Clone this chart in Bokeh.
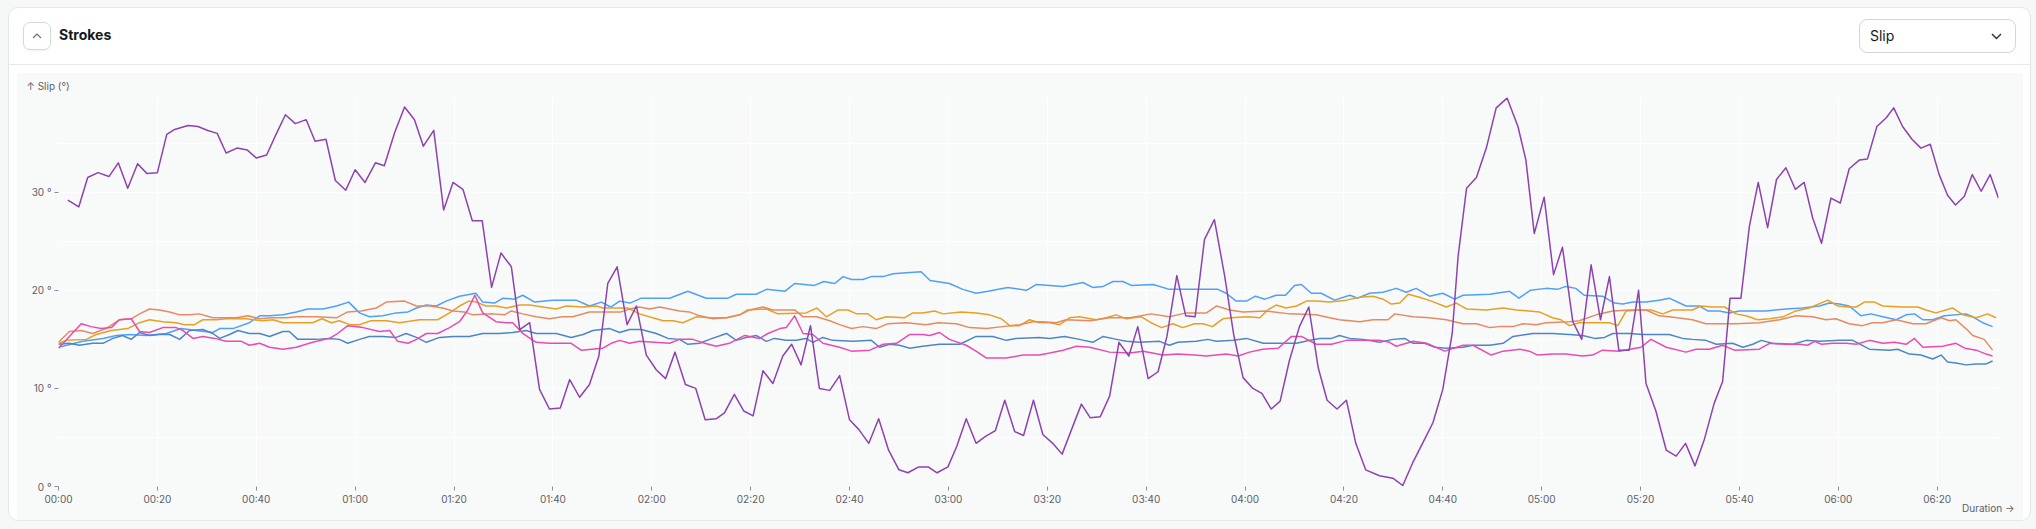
from bokeh.plotting import figure
from bokeh.layouts import column
from bokeh.models import Div, Label, FixedTicker, Range1d
from bokeh.embed import file_html
from bokeh.resources import INLINE

# slip angle (degrees) per seat, sampled against elapsed seconds
purple_t = [1.9, 4.1, 5.9, 8.0, 10.2, 12.1, 14.0, 16.0, 17.9, 20.0, 21.9, 23.5, 26.2, 28.2,
            30.2, 32.1, 33.9, 36.1, 38.2, 40.0, 42.1, 44.0, 45.9, 47.9, 50.1, 51.9, 54.1,
            56.0, 58.1, 60.0, 62.0, 64.1, 65.9, 68.0, 70.0, 72.0, 73.8, 75.9, 77.9, 79.8,
            81.8, 83.7, 85.7, 87.6, 89.5, 91.6, 93.3, 95.3, 97.3, 99.3, 101.5, 103.4, 105.4,
            107.4, 109.3, 111.1, 113.0, 115.0, 116.9, 118.9, 120.9, 122.8, 124.7, 126.8,
            128.9, 130.8, 133.0, 134.7, 136.7, 138.6, 140.5, 142.5, 144.5, 146.5, 148.3,
            150.2, 152.1, 153.9, 156.0, 158.0, 160.0, 161.9, 163.9, 165.9, 167.9, 170.0,
            171.8, 174.0, 175.9, 177.7, 179.9, 181.7, 183.6, 185.6, 187.5, 189.5, 191.4,
            193.4, 195.2, 197.2, 199.1, 201.1, 203.0, 204.9, 206.9, 208.7, 210.7, 212.6,
            214.5, 216.5, 218.3, 220.4, 222.4, 224.2, 226.2, 228.0, 229.9, 231.8, 233.8,
            235.9, 237.7, 239.6, 241.6, 243.4, 245.3, 247.1, 249.0, 251.0, 252.9, 254.8,
            256.6, 258.6, 260.5, 262.4, 264.4, 267.2, 269.9, 271.9, 273.9, 276.0, 278.0,
            280.0, 281.9, 283.1, 284.8, 286.8, 288.8, 290.8, 293.0, 295.2, 296.8, 298.5,
            300.5, 302.4, 304.2, 306.3, 308.1, 310.0, 311.9, 313.7, 315.6, 317.7, 319.6,
            321.1, 323.1, 325.2, 327.2, 329.1, 331.0, 332.9, 334.9, 336.6, 338.1, 340.3,
            342.0, 343.8, 345.7, 347.5, 349.4, 351.3, 353.1, 354.8, 356.6, 358.5, 360.4,
            362.2, 364.3, 365.9, 367.8, 369.7, 371.2, 373.0, 374.9, 376.7, 378.6, 380.4,
            382.1, 383.7, 385.5, 387.1, 388.9, 390.7, 392.4]
purple_v = [29.2, 28.5, 31.5, 32.0, 31.6, 33.0, 30.4, 32.9, 31.9, 32.0, 35.9, 36.4, 36.8, 36.7,
            36.3, 36.0, 34.0, 34.5, 34.3, 33.5, 33.8, 35.9, 37.9, 37.0, 37.4, 35.2, 35.4,
            31.2, 30.2, 32.3, 31.0, 33.0, 32.7, 36.1, 38.7, 37.4, 34.7, 36.3, 28.2, 31.0,
            30.3, 27.1, 27.1, 20.3, 23.8, 22.4, 16.0, 16.7, 9.9, 7.9, 8.0, 10.9, 9.1,
            10.4, 13.3, 20.7, 22.4, 16.5, 18.4, 13.4, 11.9, 11.0, 13.7, 10.4,
            10.0, 6.8, 6.9, 7.5, 9.4, 7.7, 7.2, 11.8, 10.5, 13.3, 14.5,
            12.4, 16.4, 10.0, 9.8, 11.3, 6.8, 5.8, 4.4, 6.9, 3.7, 1.7,
            1.4, 2.0, 2.0, 1.4, 2.0, 4.1, 6.9, 4.4, 5.1, 5.7, 8.8,
            5.6, 5.2, 8.8, 5.3, 4.4, 3.3, 5.8, 8.4, 7.0, 7.1, 9.2,
            14.7, 13.3, 16.3, 11.0, 11.7, 15.3, 21.5, 17.4, 17.3, 25.2, 27.2,
            21.4, 15.5, 11.1, 10.0, 9.5, 7.9, 8.7, 12.9, 16.3, 18.3, 12.1,
            8.8, 7.9, 8.8, 4.4, 1.7, 1.1, 0.85, 0.1, 2.4, 4.5, 6.5,
            9.9, 15.6, 23.5, 30.4, 31.5, 34.5, 38.6, 39.6, 36.7, 33.3, 25.8,
            29.5, 21.6, 24.4, 16.8, 15.0, 22.6, 17.0, 21.4, 13.9, 13.9, 20.0,
            10.5, 7.7, 3.7, 3.1, 4.4, 2.1, 4.8, 8.5, 10.7, 19.2, 19.2,
            26.5, 31.0, 26.4, 31.3, 32.5, 30.3, 31.0, 27.4, 24.8, 29.4, 28.9,
            32.4, 33.3, 33.4, 36.7, 37.6, 38.6, 36.7, 35.4, 34.5, 34.9, 31.8,
            29.7, 28.7, 29.6, 31.8, 30.1, 31.8, 29.4]

sky_t = [0, 4.9, 9.0, 11.7, 14.4, 17.7, 21.8, 24.8, 27.8, 31.2, 32.6, 35.3, 38.6, 40.7, 42.7,
         45.4, 48.1, 50.4, 53.5, 56.2, 58.7, 60.9, 62.9, 65.6, 68.3, 70.7, 72.4, 74.4, 76.4,
         78.4, 81.1, 84.4, 85.8, 88.2, 89.9, 92.2, 93.9, 96.3, 100.0, 104.7, 107.4, 109.8,
         111.7, 113.5, 115.6, 117.9, 123.6, 127.3, 131.0, 135.4, 137.1, 141.1, 143.2, 146.9,
         148.9, 152.9, 154.8, 157.0, 158.7, 160.4, 162.7, 164.4, 166.8, 168.8, 171.5, 174.5,
         176.3, 180.2, 182.9, 185.6, 188.0, 192.0, 195.8, 197.8, 203.2, 207.2, 209.2, 211.3,
         213.3, 215.3, 217.0, 221.4, 224.7, 228.8, 234.5, 236.2, 238.2, 240.3, 242.1, 244.0,
         246.3, 248.2, 250.0, 251.4, 253.4, 255.4, 258.1, 261.2, 262.8, 265.2, 267.9, 270.6,
         272.6, 274.6, 277.3, 280.0, 282.4, 284.1, 289.5, 293.5, 295.4, 297.7, 300.9, 303.2,
         304.9, 306.9, 308.6, 312.3, 314.7, 316.4, 318.4, 321.1, 323.8, 325.8, 329.2, 331.9,
         333.6, 335.9, 338.0, 340.0, 345.4, 349.4, 352.8, 356.2, 358.2, 360.2, 362.2, 364.6,
         366.6, 369.0, 371.7, 373.7, 375.4, 377.1, 379.1, 381.5, 385.8, 387.2, 389.2, 391.2]
sky_v = [14.2, 14.8, 15.1, 15.4, 15.5, 15.4, 15.6, 16.1, 15.9, 15.7, 16.1, 16.1, 16.7, 17.4, 17.4,
         17.5, 17.8, 18.1, 18.1, 18.4, 18.8, 17.7, 17.3, 17.4, 17.7, 17.8, 18.2, 18.5, 18.4,
         18.9, 19.4, 19.7, 18.8, 18.7, 19.2, 19.1, 19.5, 18.8, 19.0, 19.0, 18.4, 18.8,
         18.3, 18.9, 18.7, 19.2, 19.2, 19.9, 19.2, 19.2, 19.6, 19.6, 20.1, 19.9,
         20.7, 20.5, 20.9, 20.7, 21.4, 21.1, 21.1, 21.4, 21.4, 21.7, 21.8, 21.9,
         21.0, 20.7, 20.1, 19.7, 19.9, 20.3, 20.0, 20.6, 20.4, 20.8, 20.3, 20.4,
         20.9, 20.9, 20.5, 20.6, 20.1, 20.1, 20.1, 19.7, 18.9, 18.9, 19.4, 19.1,
         19.5, 19.5, 20.5, 20.6, 19.7, 19.7, 19.0, 19.5, 19.2, 19.7, 19.8, 20.2,
         19.8, 20.2, 19.4, 19.7, 19.1, 19.5, 19.6, 19.9, 19.2, 20.0, 20.2, 20.1,
         20.4, 20.2, 19.5, 19.4, 18.7, 18.6, 18.8, 18.8, 19.0, 19.2, 18.4, 18.4,
         17.9, 17.9, 17.7, 17.9, 17.9, 18.1, 18.2, 18.4, 18.7, 18.6, 18.4, 17.4,
         17.6, 17.3, 17.0, 17.5, 17.6, 17.0, 17.0, 17.4, 17.6, 17.3, 16.7, 16.3]

amber_t = [0, 1.6, 5.6, 7.6, 10.7, 14.0, 16.4, 18.4, 21.1, 23.8, 25.5, 27.5, 29.2, 31.9, 33.9,
           38.0, 41.3, 43.4, 45.4, 51.4, 53.3, 55.2, 56.8, 58.9, 60.9, 63.2, 66.3, 69.0, 73.0,
           76.7, 79.1, 81.1, 83.0, 84.5, 86.5, 88.5, 90.6, 93.3, 95.3, 99.3, 100.7, 102.7,
           106.1, 108.8, 110.1, 115.2, 117.5, 120.2, 122.3, 124.3, 126.3, 129.0, 131.7, 135.1,
           137.8, 139.4, 143.2, 145.5, 151.2, 153.4, 155.3, 157.7, 159.7, 161.4, 163.7, 165.4,
           167.4, 171.1, 172.8, 174.8, 177.2, 178.9, 182.6, 185.6, 188.3, 190.7, 192.4, 194.4,
           196.4, 198.4, 200.5, 202.5, 204.5, 206.5, 209.9, 211.9, 213.9, 216.0, 219.0, 221.0,
           223.1, 225.4, 227.4, 229.8, 231.5, 233.4, 235.5, 237.2, 240.6, 243.0, 244.6, 246.3,
           248.3, 250.4, 252.4, 254.4, 257.1, 260.5, 263.2, 265.9, 267.9, 269.6, 271.3, 273.0,
           275.3, 277.7, 280.7, 282.7, 284.8, 288.8, 292.2, 294.9, 299.5, 302.2, 303.9, 305.6,
           307.6, 311.7, 313.7, 315.4, 317.1, 319.8, 322.1, 324.5, 326.5, 330.5, 332.2, 334.3,
           337.0, 339.3, 341.3, 343.7, 346.1, 348.8, 351.4, 354.1, 357.9, 359.9, 361.9, 363.6,
           365.3, 367.3, 369.0, 373.0, 376.1, 377.7, 379.7, 383.1, 385.2, 387.9, 390.2, 391.9]
amber_v = [14.6, 14.9, 15.0, 15.5, 15.9, 16.1, 16.7, 17.0, 16.8, 16.7, 16.5, 16.5, 17.0, 17.0, 17.1,
           17.1, 16.9, 17.0, 16.7, 16.7, 17.1, 16.7, 16.9, 16.5, 16.5, 16.9, 16.9, 16.7, 17.0,
           17.0, 17.7, 18.4, 18.9, 18.8, 18.4, 18.4, 18.2, 18.5, 18.5, 18.2, 18.1, 18.4,
           18.3, 18.4, 18.2, 18.2, 17.6, 17.2, 16.9, 16.9, 16.7, 17.3, 17.2, 17.2,
           17.5, 18.0, 18.1, 17.6, 17.7, 18.2, 17.3, 18.0, 18.0, 17.6, 17.6, 17.0,
           17.3, 17.2, 17.7, 17.7, 17.9, 17.6, 17.8, 17.7, 17.5, 17.1, 16.4, 16.4,
           17.0, 16.7, 16.7, 16.5, 17.2, 17.3, 17.0, 17.2, 17.5, 17.1, 17.3, 16.7,
           16.2, 16.6, 16.2, 16.6, 16.6, 16.3, 17.1, 17.2, 17.3, 17.2, 18.0, 18.5,
           18.2, 18.4, 18.9, 18.9, 18.8, 19.0, 19.3, 19.4, 19.1, 18.6, 18.7, 19.6,
           19.3, 18.9, 18.3, 18.7, 18.1, 18.0, 18.2, 18.0, 17.8, 17.2, 17.0, 16.4,
           16.7, 16.7, 16.7, 16.4, 17.9, 18.0, 18.0, 17.6, 18.0, 18.0, 18.4, 18.3,
           18.3, 17.6, 17.4, 17.0, 17.1, 17.3, 17.9, 18.2, 19.0, 18.4, 18.3, 18.3,
           18.8, 18.8, 18.4, 18.3, 18.3, 18.0, 17.7, 18.2, 17.5, 17.2, 17.6, 17.2]

salmon_t = [0, 2.2, 4.6, 6.9, 9.6, 12.3, 14.7, 16.4, 18.4, 20.4, 22.5, 24.5, 26.5, 28.5, 31.2,
            35.9, 38.3, 40.7, 43.0, 46.1, 48.1, 52.1, 56.2, 58.5, 61.2, 64.3, 66.3, 70.0, 72.4,
            75.1, 77.7, 79.8, 82.1, 83.8, 87.9, 90.2, 91.6, 93.9, 96.6, 99.3, 102.0, 104.0,
            107.4, 113.8, 115.5, 117.5, 119.6, 121.6, 123.6, 125.6, 127.6, 129.7, 132.4, 135.1,
            137.8, 139.8, 142.5, 144.5, 148.9, 150.6, 153.3, 156.0, 158.0, 160.4, 162.7, 165.4,
            167.8, 171.5, 175.5, 177.9, 181.6, 184.3, 187.7, 191.0, 194.4, 197.1, 199.1, 201.8,
            203.8, 208.6, 212.6, 216.7, 221.0, 224.7, 228.1, 232.2, 234.2, 236.9, 239.6, 244.3,
            249.0, 254.4, 257.1, 259.1, 263.2, 265.9, 268.9, 270.3, 274.0, 277.3, 280.7, 284.1,
            286.8, 289.5, 291.5, 294.2, 296.2, 298.9, 300.9, 305.6, 307.6, 311.0, 314.4, 317.7,
            321.1, 323.8, 325.8, 330.5, 333.2, 339.3, 344.0, 348.1, 351.4, 354.8, 357.5, 359.5,
            362.2, 364.9, 366.9, 369.0, 371.7, 375.1, 377.7, 380.8, 382.5, 383.8, 385.8, 387.2,
            389.5, 391.2]
salmon_v = [14.7, 15.8, 15.9, 15.6, 16.1, 17.0, 17.1, 17.6, 18.1, 18.0, 17.8, 17.5, 17.5, 17.6, 17.2,
            17.2, 17.4, 17.1, 17.2, 17.2, 17.3, 17.3, 17.2, 17.8, 17.9, 18.2, 18.8, 18.9, 18.4,
            18.4, 18.2, 17.9, 17.8, 17.5, 17.6, 17.5, 17.9, 17.6, 17.3, 17.1, 17.3, 17.3,
            17.8, 17.8, 18.1, 18.3, 18.1, 18.3, 18.1, 17.9, 17.8, 17.4, 17.1, 17.2,
            17.5, 18.0, 18.3, 18.0, 18.0, 17.3, 17.3, 16.9, 16.5, 16.1, 16.3, 16.1,
            16.6, 16.7, 16.5, 16.7, 16.6, 16.2, 16.1, 16.3, 16.5, 16.8, 16.8, 16.7,
            17.0, 16.9, 17.2, 17.2, 17.6, 17.3, 17.7, 17.7, 18.4, 18.0, 17.8, 17.9,
            17.6, 17.5, 17.2, 17.0, 16.8, 17.0, 17.0, 17.6, 17.3, 17.2, 17.0, 16.6,
            16.6, 16.2, 16.3, 16.3, 16.6, 16.5, 16.7, 16.8, 16.9, 17.5, 17.9, 18.0,
            18.0, 17.4, 17.3, 17.0, 16.6, 16.6, 16.7, 17.0, 17.4, 17.3, 17.0, 17.1,
            16.6, 16.4, 16.7, 16.7, 17.0, 16.6, 16.6, 17.2, 16.9, 17.0, 16.1, 15.4,
            15.0, 13.9]

steel_t = [0, 2.2, 4.2, 6.9, 9.0, 11.0, 13.0, 14.7, 16.4, 18.4, 20.4, 22.5, 24.5, 26.5, 29.2,
           31.2, 32.6, 34.6, 36.3, 38.6, 40.7, 42.7, 45.4, 46.7, 48.4, 52.1, 54.8, 56.8, 58.5,
           60.9, 62.9, 65.6, 68.3, 70.3, 72.4, 74.4, 77.1, 79.8, 83.1, 85.8, 89.2, 91.9, 94.6,
           96.6, 100.7, 103.7, 106.1, 108.1, 111.5, 113.5, 115.5, 117.9, 120.9, 123.3, 125.6,
           127.3, 129.7, 131.7, 135.1, 137.1, 139.1, 141.1, 143.2, 144.8, 147.2, 149.2, 151.2,
           152.6, 154.6, 156.6, 160.7, 164.4, 166.1, 168.1, 170.1, 172.2, 174.8, 178.2, 182.3,
           185.6, 189.0, 191.7, 193.7, 198.4, 200.5, 203.5, 206.5, 209.2, 211.3, 214.0, 216.0,
           218.7, 222.7, 224.7, 226.4, 230.1, 232.5, 234.2, 237.6, 240.3, 243.7, 247.7, 250.4,
           253.1, 255.1, 257.5, 259.1, 261.2, 263.9, 267.2, 269.9, 272.3, 274.0, 276.3, 278.4,
           280.7, 284.1, 286.1, 289.5, 292.2, 294.2, 296.9, 298.2, 302.2, 305.6, 308.3, 310.7,
           312.7, 314.4, 317.7, 320.4, 325.8, 328.5, 330.5, 333.2, 335.3, 338.6, 340.7, 342.7,
           344.4, 346.7, 350.8, 353.5, 356.2, 360.2, 362.9, 366.3, 370.3, 372.0, 374.4, 376.7,
           379.1, 380.8, 382.1, 383.8, 385.8, 387.9, 389.9, 391.2]
steel_v = [14.5, 14.6, 14.4, 14.6, 14.6, 15.1, 15.4, 15.0, 15.7, 15.4, 15.5, 15.5, 15.0, 15.9, 16.0,
           15.6, 15.1, 15.5, 15.9, 15.6, 15.6, 15.3, 15.8, 15.8, 15.0, 15.0, 15.1, 15.0, 14.6,
           15.0, 15.3, 15.3, 15.2, 15.6, 15.2, 14.7, 15.2, 15.3, 15.3, 15.6, 15.6, 15.7, 15.9,
           15.6, 15.6, 15.2, 15.5, 15.9, 16.1, 15.7, 16.0, 16.0, 15.6, 15.1, 15.0,
           14.5, 14.6, 15.0, 15.6, 14.9, 15.2, 15.4, 14.8, 15.1, 14.9, 14.9, 15.1,
           14.7, 15.2, 14.9, 14.8, 14.9, 14.2, 14.5, 14.4, 14.1, 14.3, 14.5, 14.5,
           15.3, 15.3, 14.9, 15.1, 15.2, 15.1, 15.3, 15.0, 14.7, 15.3, 15.0, 14.8,
           14.7, 14.8, 14.4, 14.7, 14.8, 15.0, 14.8, 14.9, 15.1, 14.6, 14.6, 14.6,
           14.9, 15.1, 15.1, 15.4, 15.1, 15.0, 14.7, 15.0, 15.1, 14.6, 14.6, 14.2,
           14.1, 14.2, 14.4, 14.4, 14.6, 15.3, 15.5, 15.6, 15.6, 15.5, 15.4, 15.1,
           15.2, 15.6, 15.6, 15.5, 15.5, 15.1, 15.0, 14.9, 14.5, 14.6, 14.2, 14.5,
           14.9, 14.6, 14.5, 14.9, 14.8, 14.9, 14.9, 14.0, 13.9, 14.0, 13.5, 13.4,
           13.0, 13.4, 12.7, 12.6, 12.4, 12.5, 12.5, 12.8]

pink_t = [0, 2.2, 4.6, 6.6, 8.6, 10.7, 12.3, 14.7, 16.4, 18.4, 21.1, 23.8, 25.2, 27.2, 29.2,
          31.6, 33.9, 37.0, 38.6, 40.7, 42.7, 45.4, 48.1, 51.4, 54.8, 56.2, 58.5, 61.6, 64.9,
          67.0, 68.6, 70.7, 72.4, 74.4, 76.7, 79.1, 81.1, 82.8, 84.2, 85.8, 88.5, 90.6, 91.9,
          93.9, 96.6, 99.3, 103.7, 105.7, 110.1, 111.8, 113.5, 115.5, 117.5, 123.6, 125.6,
          128.3, 130.7, 133.0, 135.7, 138.8, 141.8, 143.5, 145.9, 147.2, 148.9, 150.6, 152.6,
          154.6, 158.0, 160.4, 164.1, 166.8, 169.5, 172.2, 174.8, 176.2, 178.2, 180.2, 183.6,
          185.6, 187.7, 191.7, 195.1, 198.4, 200.5, 203.2, 205.9, 208.6, 212.6, 216.7, 219.4,
          223.4, 226.4, 229.8, 232.2, 236.2, 238.6, 240.9, 243.6, 246.7, 249.4, 251.4, 254.4,
          257.5, 260.5, 263.9, 267.2, 269.2, 270.6, 274.0, 276.7, 280.4, 284.1, 286.1, 289.8,
          292.2, 295.6, 297.5, 299.2, 302.2, 304.9, 308.3, 310.3, 312.3, 315.7, 320.1, 322.1,
          325.2, 329.2, 331.2, 333.9, 336.6, 339.0, 344.0, 346.1, 349.4, 352.2, 353.8, 355.2,
          356.6, 358.9, 361.6, 363.6, 366.3, 369.0, 371.4, 373.7, 375.4, 377.1, 381.1, 383.8,
          385.6, 387.9, 389.9, 391.2]
pink_v = [14.1, 15.3, 16.6, 16.3, 16.1, 16.2, 17.0, 17.1, 15.8, 15.7, 16.2, 16.2, 15.9, 15.1, 15.3,
          15.1, 14.8, 14.8, 14.4, 14.6, 14.2, 14.0, 14.2, 14.7, 15.1, 15.5, 16.4, 16.2, 15.8,
          15.9, 14.8, 14.6, 15.0, 15.6, 15.6, 16.2, 16.8, 18.0, 19.5, 17.7, 16.8, 16.7, 16.7,
          15.6, 14.7, 14.6, 14.6, 13.9, 14.1, 14.6, 14.9, 14.6, 14.8, 14.6, 15.0,
          15.0, 14.6, 14.3, 14.6, 15.4, 15.1, 15.6, 16.1, 16.2, 17.4, 15.6, 15.5,
          14.6, 14.2, 13.8, 13.9, 14.5, 14.6, 15.5, 15.5, 15.4, 15.7, 15.0, 14.4,
          13.8, 13.1, 13.1, 13.4, 13.4, 13.6, 13.9, 14.3, 14.2, 13.7, 13.6, 13.8,
          13.4, 13.5, 13.4, 13.3, 13.5, 13.3, 13.7, 14.0, 14.1, 15.3, 15.3, 14.5,
          14.5, 14.9, 14.9, 14.9, 14.7, 14.3, 14.8, 14.6, 13.8, 14.4, 14.4, 13.4,
          13.8, 14.0, 13.8, 13.4, 13.5, 13.5, 13.3, 13.4, 13.9, 13.8, 14.2, 15.0,
          14.2, 13.7, 14.0, 14.0, 14.4, 13.9, 14.0, 14.6, 14.5, 14.5, 14.4, 14.8,
          14.5, 14.6, 14.6, 14.5, 14.9, 14.6, 14.7, 14.5, 15.1, 14.2, 14.3, 14.6,
          14.1, 13.9, 13.5, 13.3]

x_ticks = [0, 20, 40, 60, 80, 100, 120, 140, 160, 180, 200, 220, 240, 260, 280, 300, 320, 340, 360, 380]
x_tick_labels = ["00:00", "00:20", "00:40", "01:00", "01:20", "01:40", "02:00", "02:20", "02:40",
                 "03:00", "03:20", "03:40", "04:00", "04:20", "04:40", "05:00", "05:20", "05:40",
                 "06:00", "06:20"]
y_ticks = [0, 10, 20, 30]
y_tick_labels = ["0 °", "10 °", "20 °", "30 °"]
y_grid = [0, 5, 10, 15, 20, 25, 30, 35]

FONT = "Inter"
PANEL = "#f8f9f9"

chevron_up = ('<svg width="10" height="6" viewBox="0 0 10 6" style="display:block">'
              '<polyline points="1,5 5,1 9,5" fill="none" stroke="#6b6f72" stroke-width="1.2"/></svg>')
chevron_down = ('<svg width="11" height="7" viewBox="0 0 11 7" style="display:block">'
                '<polyline points="1,1 5.5,5.5 10,1" fill="none" stroke="#2b2f33" stroke-width="1.4"/></svg>')

header_html = f"""
<div style="position:relative;width:2021px;height:57px;font-family:Inter,sans-serif;">
  <div style="position:absolute;left:14px;top:14px;width:28px;height:28px;box-sizing:border-box;
              border:1px solid #d6d9d9;border-radius:7px;background:#fff;
              box-shadow:0 1px 2px rgba(0,0,0,0.05);
              display:flex;align-items:center;justify-content:center;">{chevron_up}</div>
  <div style="position:absolute;left:50px;top:18px;line-height:18px;font-size:14px;
              font-weight:700;color:#15191c;">Strokes</div>
  <div style="position:absolute;left:1850px;top:11px;width:157px;height:34px;box-sizing:border-box;
              border:1px solid #d3d6d6;border-radius:8px;background:#fff;">
    <div style="position:absolute;left:10px;top:7px;line-height:18px;font-size:14px;
                color:#15191c;">Slip</div>
    <div style="position:absolute;right:13px;top:13px;">{chevron_down}</div>
  </div>
</div>
"""

header = Div(text=header_html, width=2021, height=57,
             styles={"border-bottom": "1px solid #e8eaea", "margin": "0", "padding": "0"})

p = figure(width=2007, height=448, title=None,
           x_range=Range1d(0, 392.4), y_range=Range1d(0, 39.66),
           toolbar_location=None, output_backend="svg",
           min_border_left=42, min_border_right=25, min_border_top=25, min_border_bottom=34,
           margin=(7, 7, 0, 7))
p.border_fill_color = PANEL
p.background_fill_color = PANEL
p.outline_line_color = None

for xs, ys, color in [(sky_t, sky_v, "#4fa0f8"),
                      (amber_t, amber_v, "#e8a024"),
                      (salmon_t, salmon_v, "#e78a63"),
                      (steel_t, steel_v, "#4d86c7"),
                      (pink_t, pink_v, "#e84cb3"),
                      (purple_t, purple_v, "#8e42b0")]:
    p.line(xs, ys, line_color=color, line_width=1.5, line_join="round")

p.xaxis.ticker = FixedTicker(ticks=x_ticks)
p.xaxis.major_label_overrides = dict(zip(x_ticks, x_tick_labels))
p.yaxis.ticker = FixedTicker(ticks=y_ticks)
p.yaxis.major_label_overrides = dict(zip(y_ticks, y_tick_labels))
p.xgrid.ticker = FixedTicker(ticks=x_ticks)
p.ygrid.ticker = FixedTicker(ticks=y_grid)
p.grid.grid_line_color = "white"
p.grid.grid_line_width = 1

for ax in (p.xaxis, p.yaxis):
    ax.axis_line_color = None
    ax.minor_tick_line_color = None
    ax.major_tick_in = 0
    ax.major_tick_out = 4
    ax.major_tick_line_color = "#8a8f94"
    ax.major_label_text_font = FONT
    ax.major_label_text_font_size = "10px"
    ax.major_label_text_color = "#5c6166"
p.xaxis.major_label_standoff = 2
p.yaxis.major_label_standoff = 3

# axis captions sit in the side panels so they are not clipped to the frame
p.add_layout(Label(x=10, y=13, x_units="canvas", y_units="canvas", text="↑ Slip (°)",
                   text_font=FONT, text_font_size="10px", text_color="#5c6166",
                   text_baseline="middle"), "above")
p.add_layout(Label(x=1998, y=435, x_units="canvas", y_units="canvas", text="Duration →",
                   text_font=FONT, text_font_size="10px", text_color="#5c6166",
                   text_baseline="middle", text_align="right"), "below")

card = column(header, p, spacing=0, margin=(7, 0, 0, 8),
              styles={"background-color": "white", "border": "1px solid #e4e7e7",
                      "border-radius": "10px", "box-shadow": "0 0 0 40px #f6f7f7"})

open("out.html", "w").write(file_html(card, INLINE))
